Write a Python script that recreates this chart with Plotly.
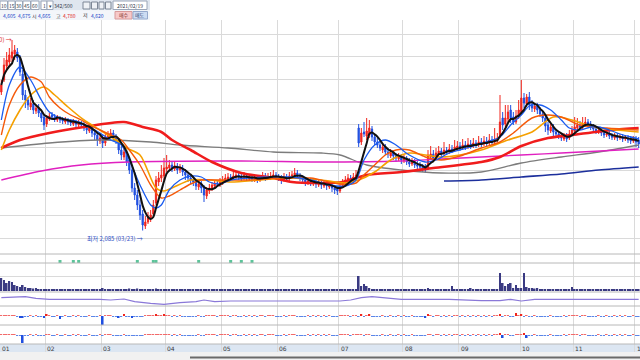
import plotly.graph_objects as go
import pandas as pd

W, H = 640, 360


def px(x):
    return x / W


def py(y):
    return 1 - y / H


# ---------------- data ----------------
day_index = list(range(240))
month_labels = ["01", "02", "03", "04", "05", "06", "07", "08", "09", "10", "11", "12"]
month_first_day = [0, 17, 38, 62, 83, 104, 127, 151, 172, 195, 215, 238]

opens = [
    6240, 6600, 7020, 7140, 7260, 7380, 7440, 7260, 6780, 6150,
    6000, 5790, 5880, 5670, 5760, 5610, 5490, 5280, 5430, 5550,
    5490, 5400, 5460, 5430, 5340, 5400, 5370, 5280, 5340, 5250,
    5310, 5250, 5160, 5070, 5190, 5010, 4950, 4770, 4860, 4710,
    4860, 4920, 5010, 4890, 4770, 4500, 4290, 4440, 4200, 3900,
    3360, 3150, 2850, 2580, 2220, 2340, 2430, 2580, 2910, 3540,
    3660, 3720, 3930, 3960, 4050, 3930, 4020, 3900, 3960, 3840,
    3750, 3660, 3600, 3540, 3390, 3480, 3360, 3120, 3270, 3330,
    3420, 3510, 3450, 3510, 3570, 3630, 3690, 3660, 3690, 3750,
    3690, 3660, 3720, 3630, 3690, 3600, 3660, 3600, 3660, 3720,
    3660, 3660, 3720, 3750, 3690, 3660, 3600, 3690, 3630, 3720,
    3750, 3810, 3720, 3660, 3600, 3510, 3570, 3480, 3540, 3450,
    3510, 3420, 3480, 3390, 3450, 3360, 3330, 3270, 3420, 3510,
    3570, 3660, 3570, 3660, 5160, 4740, 5040, 4920, 4950, 5130,
    4890, 4740, 4650, 4500, 4590, 4440, 4320, 4410, 4320, 4230,
    4290, 4170, 4260, 4140, 4080, 4140, 4050, 4020, 3990, 3960,
    3960, 4290, 4380, 4260, 4380, 4470, 4410, 4500, 4440, 4530,
    4500, 4560, 4620, 4560, 4650, 4590, 4680, 4620, 4710, 4650,
    4740, 4680, 4770, 4710, 4800, 4740, 4800, 4950, 5460, 5280,
    5430, 5700, 5490, 5340, 5490, 5640, 6060, 5880, 6090, 5880,
    5730, 5820, 5700, 5580, 5460, 5250, 5070, 5190, 5040, 4980,
    4920, 4830, 4920, 4860, 4980, 5070, 5160, 5250, 5190, 5250,
    5340, 5280, 5190, 5130, 5040, 5100, 5010, 4950, 4980, 4920,
    4860, 4920, 4860, 4890, 4830, 4860, 4830, 4770, 4830, 4800,
]
highs = [
    6600, 7260, 7440, 7560, 7800, 7650, 7560, 7350, 6900, 6300,
    6090, 6060, 6000, 5850, 5880, 5700, 5550, 5550, 5610, 5640,
    5580, 5550, 5520, 5490, 5490, 5460, 5430, 5430, 5400, 5400,
    5370, 5340, 5250, 5280, 5250, 5100, 5040, 4980, 4950, 4980,
    5070, 5130, 5100, 4980, 4860, 4620, 4560, 4500, 4290, 4020,
    3510, 3300, 3000, 2700, 2520, 2640, 2700, 3000, 3720, 3840,
    4050, 4260, 4350, 4200, 4140, 4140, 4110, 4080, 4050, 3930,
    3840, 3750, 3720, 3630, 3570, 3570, 3450, 3390, 3480, 3540,
    3600, 3600, 3660, 3720, 3780, 3810, 3780, 3840, 3870, 3840,
    3780, 3840, 3810, 3780, 3780, 3750, 3750, 3750, 3840, 3810,
    3810, 3840, 3900, 3840, 3780, 3750, 3810, 3780, 3840, 3870,
    3960, 3900, 3810, 3750, 3690, 3660, 3660, 3630, 3630, 3600,
    3600, 3570, 3540, 3540, 3510, 3450, 3420, 3510, 3630, 3720,
    3780, 3750, 3810, 3900, 5280, 5160, 5340, 5460, 5400, 5220,
    4980, 4860, 4770, 4710, 4680, 4560, 4530, 4500, 4410, 4410,
    4380, 4350, 4320, 4260, 4260, 4230, 4170, 4140, 4080, 4080,
    4500, 4620, 4500, 4560, 4620, 4560, 4740, 4590, 4680, 4650,
    4800, 4770, 4740, 4830, 4770, 4860, 4800, 4860, 4800, 4920,
    4860, 4920, 4890, 4980, 4920, 5160, 5010, 6150, 5640, 5850,
    5850, 5850, 5640, 5700, 6000, 6600, 6210, 6180, 6240, 6000,
    5910, 5910, 5790, 5670, 5550, 5340, 5280, 5280, 5130, 5070,
    5010, 5010, 5010, 5100, 5220, 5490, 5460, 5370, 5490, 5490,
    5430, 5370, 5280, 5220, 5190, 5190, 5100, 5070, 5070, 5010,
    5010, 5010, 4980, 4980, 4950, 4950, 4920, 4920, 4920, 4890,
]
lows = [
    6150, 6540, 6900, 7020, 7140, 7200, 7140, 6720, 6000, 5760,
    5700, 5700, 5580, 5580, 5490, 5340, 5100, 5190, 5370, 5400,
    5340, 5340, 5310, 5280, 5280, 5250, 5220, 5220, 5190, 5190,
    5160, 5070, 4980, 5010, 4890, 4800, 4620, 4680, 4560, 4620,
    4800, 4860, 4800, 4680, 4380, 4200, 4200, 4020, 3780, 3240,
    3000, 2700, 2400, 2085, 2130, 2280, 2340, 2460, 2850, 3420,
    3540, 3600, 3840, 3900, 3840, 3870, 3780, 3810, 3720, 3600,
    3540, 3480, 3420, 3300, 3300, 3210, 2940, 3030, 3180, 3270,
    3360, 3390, 3390, 3450, 3510, 3570, 3570, 3600, 3630, 3600,
    3570, 3600, 3570, 3570, 3540, 3540, 3510, 3540, 3600, 3570,
    3600, 3600, 3630, 3600, 3570, 3480, 3540, 3540, 3570, 3660,
    3690, 3630, 3570, 3510, 3420, 3450, 3420, 3420, 3360, 3390,
    3330, 3360, 3300, 3330, 3240, 3180, 3150, 3210, 3360, 3450,
    3510, 3510, 3510, 3600, 4590, 4650, 4890, 4800, 4860, 4770,
    4650, 4560, 4470, 4410, 4350, 4260, 4260, 4200, 4140, 4170,
    4080, 4110, 4050, 3990, 4020, 3960, 3930, 3900, 3840, 3810,
    3900, 4200, 4170, 4200, 4320, 4290, 4350, 4350, 4380, 4410,
    4440, 4500, 4470, 4500, 4500, 4530, 4530, 4560, 4560, 4590,
    4590, 4620, 4620, 4650, 4650, 4680, 4740, 4860, 5100, 5190,
    5340, 5310, 5250, 5280, 5430, 5550, 5760, 5790, 5700, 5640,
    5640, 5580, 5490, 5340, 5040, 4950, 5010, 4920, 4890, 4830,
    4770, 4770, 4740, 4800, 4920, 5010, 5100, 5100, 5130, 5190,
    5190, 5100, 5040, 4980, 4980, 4920, 4860, 4890, 4830, 4800,
    4800, 4770, 4800, 4740, 4770, 4710, 4680, 4710, 4590, 4560,
]
closes = [
    6450, 7050, 7200, 7350, 7440, 7500, 7260, 6840, 6150, 6000,
    5850, 5910, 5700, 5760, 5610, 5460, 5250, 5460, 5520, 5490,
    5430, 5460, 5400, 5370, 5400, 5340, 5310, 5340, 5280, 5310,
    5250, 5160, 5100, 5190, 5010, 4950, 4800, 4860, 4710, 4890,
    4950, 5010, 4890, 4800, 4500, 4350, 4440, 4140, 3900, 3360,
    3150, 2850, 2550, 2250, 2340, 2460, 2550, 2850, 3600, 3660,
    3750, 3960, 3990, 4050, 3960, 4020, 3900, 3960, 3840, 3750,
    3660, 3600, 3540, 3420, 3480, 3360, 3150, 3300, 3360, 3450,
    3510, 3480, 3540, 3600, 3660, 3690, 3660, 3720, 3750, 3690,
    3660, 3720, 3660, 3690, 3630, 3660, 3600, 3660, 3720, 3660,
    3690, 3720, 3750, 3690, 3660, 3600, 3690, 3630, 3720, 3750,
    3810, 3720, 3660, 3600, 3540, 3570, 3510, 3540, 3480, 3510,
    3450, 3480, 3420, 3450, 3360, 3300, 3270, 3420, 3540, 3600,
    3660, 3600, 3690, 3750, 4710, 5010, 4980, 5070, 5160, 4890,
    4740, 4650, 4560, 4590, 4440, 4380, 4410, 4320, 4260, 4290,
    4200, 4260, 4140, 4080, 4140, 4050, 4020, 3990, 3930, 3900,
    4350, 4380, 4260, 4410, 4470, 4410, 4500, 4440, 4530, 4500,
    4590, 4620, 4560, 4650, 4590, 4680, 4620, 4710, 4650, 4740,
    4680, 4770, 4710, 4800, 4740, 4830, 4860, 5340, 5250, 5460,
    5640, 5460, 5340, 5520, 5700, 6060, 5910, 6090, 5850, 5760,
    5820, 5700, 5580, 5460, 5220, 5100, 5190, 5040, 4980, 4920,
    4860, 4920, 4830, 4980, 5100, 5190, 5250, 5190, 5280, 5340,
    5280, 5190, 5130, 5070, 5100, 5010, 4950, 4980, 4920, 4890,
    4920, 4860, 4890, 4830, 4860, 4800, 4770, 4830, 4740, 4680,
]

# moving-average lines (day index, price)
ma10_days = [0, 3, 7, 11, 15, 18, 22, 26, 30, 33, 37, 41, 45, 48, 52, 56, 58, 60, 63, 67,
             71, 75, 78, 82, 86, 93, 101, 108, 116, 123, 129, 133, 136, 140, 144, 148, 153,
             159, 163, 168, 176, 183, 187, 191, 195, 198, 202, 206, 210, 213, 217, 221, 224,
             228, 232, 236, 239]
ma10_vals = [5400, 6450, 6990, 6600, 6000, 5640, 5460, 5400, 5310, 5190, 5010, 4800, 4650,
             4200, 3450, 2850, 2760, 2850, 3300, 3600, 3720, 3690, 3540, 3480, 3600, 3660,
             3690, 3690, 3600, 3450, 3420, 3600, 4200, 4650, 4800, 4650, 4350, 4140, 4200,
             4410, 4590, 4770, 4890, 5250, 5550, 5820, 5850, 5700, 5400, 5160, 5100, 5190,
             5190, 5100, 4980, 4890, 4830]
ma20_days = [0, 3, 7, 11, 15, 18, 22, 26, 30, 33, 37, 41, 45, 48, 52, 56, 60, 63, 67, 71,
             75, 82, 93, 105, 116, 127, 133, 136, 140, 144, 148, 153, 159, 165, 172, 180,
             187, 192, 199, 205, 210, 217, 227, 239]
ma20_vals = [4950, 5850, 6450, 6690, 6540, 6090, 5760, 5550, 5400, 5250, 5100, 4950, 4800,
             4500, 4050, 3450, 3060, 3120, 3300, 3480, 3600, 3600, 3600, 3660, 3660, 3480,
             3510, 3750, 4050, 4350, 4500, 4500, 4290, 4200, 4320, 4560, 4740, 5010, 5460,
             5550, 5490, 5250, 5160, 5100]
ma30_days = [0, 3, 7, 11, 16, 20, 25, 31, 37, 43, 47, 52, 58, 61, 64, 71, 78, 86, 97, 108,
             120, 129, 134, 140, 146, 153, 159, 165, 172, 180, 190, 199, 207, 214, 222, 239]
ma30_vals = [4500, 5100, 5700, 6150, 6390, 6150, 5790, 5400, 5100, 4800, 4560, 4350, 3360,
             3270, 3360, 3600, 3600, 3540, 3600, 3660, 3600, 3510, 3600, 3840, 4200, 4410,
             4350, 4290, 4350, 4500, 4800, 5040, 5490, 5400, 5190, 5040]
ma60_days = [0, 7, 18, 31, 46, 53, 60, 64, 71, 79, 90, 102, 109, 120, 128, 137, 150, 162,
             180, 187, 195, 205, 214, 229, 239]
ma60_vals = [4560, 4800, 5010, 5190, 5340, 5190, 5040, 4800, 4500, 4140, 3810, 3660, 3540,
             3510, 3540, 3750, 3840, 3960, 4140, 4290, 4620, 4860, 4950, 5100, 5160]
ma120_days = [0, 18, 37, 56, 67, 85, 102, 120, 127, 137, 150, 165, 180, 195, 210, 224, 239]
ma120_vals = [4560, 4710, 4800, 4740, 4650, 4560, 4440, 4410, 4350, 4050, 3900, 3810, 3840,
              4110, 4290, 4440, 4650]
ma240_days = [0, 15, 30, 48, 90, 120, 150, 165, 180, 195, 210, 239]
ma240_vals = [3600, 3870, 4050, 4140, 4170, 4140, 4170, 4230, 4290, 4350, 4410, 4530]
ma480_days = [166, 180, 195, 210, 224, 239]
ma480_vals = [3570, 3600, 3690, 3780, 3900, 3990]

volume = [
    1300, 1100, 800, 1000, 900, 600, 500, 400, 600, 400,
    300, 300, 250, 300, 200, 200, 150, 200, 150, 150,
    200, 150, 150, 200, 150, 150, 150, 200, 150, 150,
    150, 200, 150, 150, 200, 150, 150, 200, 300, 150,
    150, 200, 150, 150, 200, 150, 200, 200, 250, 200,
    200, 250, 200, 200, 150, 150, 150, 200, 250, 200,
    200, 150, 150, 150, 150, 200, 150, 150, 150, 150,
    150, 150, 150, 150, 150, 150, 200, 150, 150, 150,
    150, 150, 150, 150, 150, 150, 150, 150, 150, 150,
    150, 150, 150, 150, 150, 150, 150, 150, 150, 150,
    150, 150, 150, 150, 150, 150, 150, 150, 150, 150,
    150, 150, 150, 150, 150, 150, 150, 150, 150, 150,
    150, 150, 150, 150, 150, 150, 150, 150, 200, 150,
    150, 150, 150, 150, 1500, 500, 700, 500, 300, 200,
    200, 200, 200, 150, 150, 150, 150, 150, 150, 150,
    150, 150, 150, 150, 150, 150, 150, 150, 150, 150,
    300, 200, 150, 150, 150, 150, 150, 150, 150, 500,
    150, 150, 150, 150, 150, 150, 300, 150, 150, 150,
    150, 150, 150, 150, 150, 150, 150, 1800, 800, 500,
    700, 800, 300, 600, 300, 300, 1800, 400, 300, 300,
    250, 300, 200, 150, 150, 150, 150, 150, 150, 150,
    150, 150, 150, 150, 400, 150, 150, 150, 150, 150,
    150, 150, 150, 150, 150, 150, 150, 150, 150, 150,
    150, 150, 150, 150, 150, 150, 150, 150, 150, 150,
]

line_ind_days = [0, 5, 9, 13, 18, 37, 41, 46, 50, 56, 61, 67, 73, 76, 80, 86, 127, 131, 135,
                 139, 144, 150, 168, 180, 187, 191, 195, 200, 239]
line_ind_vals = [8.3, 9.0, 9.3, 7.7, 6.7, 6.7, 6.0, 7.0, 4.3, 2.7, 1.7, 3.3, 4.3, 6.0, 4.3,
                 5.0, 5.0, 6.0, 8.3, 9.3, 8.3, 6.7, 6.7, 5.3, 5.3, 6.7, 5.0, 6.7, 6.7]

osc1 = [
    1, 1, 1, 1, 1, 1, -1, -2, -2, -1,
    -1, 1, -1, 1, -1, -1, -2, 2, 1, -1,
    -1, 1, -3, -1, 1, -1, -1, 1, -1, 1,
    -1, -1, -1, 1, -1, -1, -1, 1, -9, 1,
    1, 1, -1, -1, -2, -1, 2, -1, -1, -2,
    -1, -1, -1, -1, 1, 1, 1, 1, 2, 1,
    1, 2, 1, 1, -1, 1, -1, 1, -1, -1,
    -1, -1, -1, -1, 1, -1, -1, 1, 1, 1,
    1, -1, 1, 1, 1, 1, -1, 1, 1, -1,
    -1, 1, -1, 1, -1, 1, -1, 1, 1, -1,
    1, 1, 1, -1, -1, -1, 1, -1, 1, 1,
    1, -1, -1, -1, -1, 1, -1, 1, -1, 1,
    -1, 1, -1, 1, -1, -1, -1, 1, 1, 1,
    1, -1, 1, 1, -1, 2, -1, 1, 2, -1,
    -1, -1, -1, 1, -1, -1, 1, -1, -1, 1,
    -1, 1, -1, -1, 1, -1, -1, -1, -1, -2,
    2, 1, -1, 1, 1, -1, 1, -1, 1, -1,
    1, 1, -1, 1, -1, 1, -1, 1, -1, 1,
    -1, 1, -1, 1, -1, 1, 1, 2, -1, 1,
    1, -1, -1, 3, 1, 2, -1, 1, -1, -1,
    1, -1, -1, -1, -1, -1, 1, -1, -1, -1,
    -1, 1, -1, 1, 1, 1, 1, -1, 1, 1,
    -1, -1, -1, -1, 1, -1, -1, 1, -1, -1,
    1, -1, 1, -1, 1, -1, -1, 1, -1, -1,
]
osc2 = [
    0.5, 0.5, 0.5, 0.5, 0.5, 0.5, -0.5, -0.5, -8, -0.5,
    -0.5, 0.5, -0.5, 0.5, -0.5, -0.5, -0.5, 0.5, 0.5, -0.5,
    -0.5, 0.5, -0.5, -0.5, 0.5, -0.5, -0.5, 0.5, -0.5, 0.5,
    -0.5, -0.5, -0.5, 0.5, -0.5, -0.5, -0.5, 0.5, -0.5, 0.5,
    0.5, 0.5, -0.5, -0.5, -0.5, -0.5, 0.5, -0.5, -0.5, -0.5,
    -0.5, -0.5, -0.5, -0.5, 0.5, 0.5, 0.5, 0.5, 0.5, 0.5,
    0.5, 0.5, 0.5, 0.5, -0.5, 0.5, -0.5, 0.5, -0.5, -0.5,
    -0.5, -0.5, -0.5, -0.5, 0.5, -0.5, -0.5, 0.5, 0.5, 0.5,
    0.5, -0.5, 0.5, 0.5, 0.5, 0.5, -0.5, 0.5, 0.5, -0.5,
    -0.5, 0.5, -0.5, 0.5, -0.5, 0.5, -0.5, 0.5, 0.5, -0.5,
    0.5, 0.5, 0.5, -0.5, -0.5, -0.5, 0.5, -0.5, 0.5, 0.5,
    0.5, -0.5, -0.5, -0.5, -0.5, 0.5, -0.5, 0.5, -0.5, 0.5,
    -0.5, 0.5, -0.5, 0.5, -0.5, -0.5, -0.5, 0.5, 0.5, 0.5,
    0.5, -0.5, 0.5, 0.5, 1, 0.8, -0.5, 0.8, 0.8, -0.5,
    -0.5, -0.5, -0.5, 0.5, -0.5, -0.5, 0.5, -0.5, -0.5, 0.5,
    -0.5, 0.5, -0.5, -0.5, 0.5, -0.5, -0.5, -0.5, -0.5, -0.5,
    0.5, 0.5, -0.5, 0.5, 0.5, -0.5, 0.5, -0.5, 0.5, -0.5,
    0.5, 0.5, -0.5, 0.5, -0.5, 0.5, -0.5, 0.5, -0.5, 0.5,
    -0.5, 0.5, -0.5, 0.5, -0.5, 0.5, 0.5, 2, -3, 0.5,
    0.5, -1, -0.5, 0.5, 0.5, 0.5, 2, -3, -0.5, -0.5,
    0.5, -0.5, -0.5, -0.5, -0.5, -0.5, 0.5, -0.5, -0.5, -0.5,
    -0.5, 0.5, -0.5, 0.5, 0.5, 0.5, 0.5, -0.5, 0.5, 0.5,
    -0.5, -0.5, -0.5, -0.5, 0.5, -0.5, -0.5, 0.5, -0.5, -0.5,
    0.5, -0.5, 0.5, -0.5, 0.5, -0.5, -0.5, 0.5, -0.5, -0.5,
]
signal_days = [22, 27, 29, 51, 57, 58, 74, 86, 90, 94]
signal_level = [1.5] * len(signal_days)

low_label = "최저 2,085 (03/23) →"
high_label = "최고 7,800 (01/20) →"

# ---------------- figure ----------------
RED = "#f0261e"
BLUE = "#1f4fe0"
FONT = "Noto Sans CJK KR, DejaVu Sans, sans-serif"

fig = go.Figure()

fig.add_trace(go.Candlestick(
    x=day_index, open=opens, high=highs, low=lows, close=closes,
    increasing=dict(line=dict(color=RED, width=1), fillcolor=RED),
    decreasing=dict(line=dict(color=BLUE, width=1), fillcolor=BLUE),
    whiskerwidth=0, hoverinfo="skip", xaxis="x", yaxis="y"))

ma5 = pd.Series(closes).rolling(5, min_periods=1).mean()


def ma_line(xs, ys, color, width):
    fig.add_trace(go.Scatter(x=xs, y=ys, mode="lines",
                             line=dict(color=color, width=width, shape="spline", smoothing=0.8),
                             hoverinfo="skip", xaxis="x", yaxis="y"))


ma_line(ma480_days, ma480_vals, "#1c2f9c", 1.6)
ma_line(ma120_days, ma120_vals, "#7c7c7c", 1.3)
ma_line(ma240_days, ma240_vals, "#e020c0", 1.3)
ma_line(ma60_days, ma60_vals, "#f01c1c", 2.6)
ma_line(ma30_days, ma30_vals, "#f5a000", 1.6)
ma_line(ma20_days, ma20_vals, "#f55a0a", 1.4)
ma_line(ma10_days, ma10_vals, "#1a5cf0", 1.3)
fig.add_trace(go.Scatter(x=day_index, y=ma5, mode="lines",
                         line=dict(color="#111111", width=2, shape="spline", smoothing=0.6),
                         hoverinfo="skip", xaxis="x", yaxis="y"))

# signal dots
fig.add_trace(go.Scatter(x=signal_days, y=signal_level, mode="markers",
                         marker=dict(symbol="square", size=3, color="#5cc49a"),
                         hoverinfo="skip", xaxis="x", yaxis="y2"))

# volume
fig.add_trace(go.Bar(x=day_index, y=volume, marker=dict(color="#3a3a82", line=dict(width=0)),
                     hoverinfo="skip", xaxis="x", yaxis="y3"))

# line indicator
fig.add_trace(go.Scatter(x=line_ind_days, y=line_ind_vals, mode="lines",
                         line=dict(color="#8a78d8", width=1.2),
                         hoverinfo="skip", xaxis="x", yaxis="y4"))


def osc_colors(vals):
    out = []
    for v in vals:
        if v > 0:
            out.append(RED if v >= 1.5 else "#f26a6a")
        else:
            out.append(BLUE if v <= -1.5 else "#5b86e8")
    return out


fig.add_trace(go.Bar(x=day_index, y=osc1, marker=dict(color=osc_colors(osc1), line=dict(width=0)),
                     hoverinfo="skip", xaxis="x", yaxis="y5"))
fig.add_trace(go.Bar(x=day_index, y=osc2, marker=dict(color=osc_colors(osc2), line=dict(width=0)),
                     hoverinfo="skip", xaxis="x", yaxis="y6"))
fig.add_trace(go.Scatter(x=[0], y=[-1], mode="markers", marker=dict(size=1, opacity=0),
                         hoverinfo="skip", xaxis="x", yaxis="y7"))

GRID = "#dadada"
tick_pos = [d - 0.5 for d in month_first_day]

fig.update_layout(
    width=W, height=H, margin=dict(l=0, r=0, t=0, b=0),
    paper_bgcolor="white", plot_bgcolor="rgba(0,0,0,0)",
    showlegend=False, bargap=0.35, boxgap=0.35,
    font=dict(family=FONT, size=7, color="#333333"),
    xaxis=dict(range=[-0.5, 239.5], tickvals=tick_pos, showticklabels=False,
               showgrid=True, gridcolor=GRID, gridwidth=1, zeroline=False,
               showline=False, ticks="", rangeslider=dict(visible=False),
               fixedrange=True, anchor="y7"),
    yaxis=dict(domain=[py(254), py(20)], range=[1380, 8400], tick0=1860, dtick=680,
               showticklabels=False, showgrid=True, gridcolor=GRID, zeroline=False,
               fixedrange=True),
    yaxis2=dict(domain=[py(263), py(254)], range=[0, 9], showgrid=False,
                showticklabels=False, zeroline=False, fixedrange=True),
    yaxis3=dict(domain=[py(292), py(263)], range=[-100, 2800], tickvals=[1450],
                showgrid=True, gridcolor=GRID, showticklabels=False, zeroline=False,
                fixedrange=True),
    yaxis4=dict(domain=[py(306), py(292)], range=[0, 14], showgrid=False,
                showticklabels=False, zeroline=False, fixedrange=True),
    yaxis5=dict(domain=[py(325), py(306)], range=[-9, 10], showgrid=False,
                showticklabels=False, zeroline=False, fixedrange=True),
    yaxis6=dict(domain=[py(344), py(325)], range=[-9, 10], showgrid=False,
                showticklabels=False, zeroline=False, fixedrange=True),
    yaxis7=dict(domain=[py(352), py(344)], range=[0, 1], showgrid=False,
                showticklabels=False, zeroline=False, fixedrange=True),
)

shapes = []
# x-axis band and bottom strip
shapes.append(dict(type="rect", xref="paper", yref="paper", x0=0, x1=1, y0=py(352), y1=py(344),
                   fillcolor="#dce6f2", line=dict(width=0), layer="below"))
shapes.append(dict(type="rect", xref="paper", yref="paper", x0=0, x1=1, y0=0, y1=py(352),
                   fillcolor="#f1f1f1", line=dict(width=0), layer="below"))
shapes.append(dict(type="line", xref="paper", yref="paper", x0=px(190), x1=1, y0=py(357.5),
                   y1=py(357.5), line=dict(color="#6a6a6a", width=2)))
# panel separators
for yy in [254, 263, 292, 306, 325, 344]:
    shapes.append(dict(type="line", xref="paper", yref="paper", x0=0, x1=1, y0=py(yy), y1=py(yy),
                       line=dict(color="#b8b8b8", width=1)))
# toolbar
shapes.append(dict(type="rect", xref="paper", yref="paper", x0=0, x1=px(150), y0=py(10.5), y1=1,
                   fillcolor="#dfe6ef", line=dict(width=0), layer="below"))
shapes.append(dict(type="rect", xref="paper", yref="paper", x0=0, x1=px(150), y0=py(20), y1=py(10.5),
                   fillcolor="#f3f6fa", line=dict(width=0), layer="below"))
btns = [(0, 7.5), (8, 15), (15.5, 22.5), (23, 30.5), (31, 39), (41, 47), (47, 53), (113, 147)]
for a, b in btns:
    shapes.append(dict(type="rect", xref="paper", yref="paper", x0=px(a), x1=px(b), y0=py(9.5),
                       y1=py(1), fillcolor="white", line=dict(color="#9aa6b8", width=1)))
for a, b in [(83, 90), (91.5, 97.5), (99, 104), (105.5, 111)]:
    shapes.append(dict(type="rect", xref="paper", yref="paper", x0=px(a), x1=px(b), y0=py(9),
                       y1=py(2), fillcolor="#eef1f5", line=dict(color="#7d8796", width=1)))
shapes.append(dict(type="rect", xref="paper", yref="paper", x0=px(115), x1=px(132), y0=py(19),
                   y1=py(11.5), fillcolor="#f7c9c9", line=dict(color="#d89a9a", width=1)))
shapes.append(dict(type="rect", xref="paper", yref="paper", x0=px(133), x1=px(147.5), y0=py(19),
                   y1=py(11.5), fillcolor="#cddcf2", line=dict(color="#95a9cc", width=1)))
fig.update_layout(shapes=shapes)

ann = []
for d, lab in zip(tick_pos, month_labels):
    ann.append(dict(x=d, xref="x", y=py(348), yref="paper", text=lab, showarrow=False,
                    xanchor="left", yanchor="middle", xshift=0,
                    font=dict(size=6, color="#3a3a3a", family="DejaVu Sans")))

low_i = lows.index(min(lows))
ann.append(dict(x=low_i + 0.8, y=lows[low_i], xref="x", yref="y", text=low_label,
                showarrow=False, xanchor="right", yanchor="top", yshift=-1,
                font=dict(size=6, color="#2d4fc6", family=FONT)))
high_i = highs.index(max(highs))
ann.append(dict(x=high_i + 0.6, y=highs[high_i], xref="x", yref="y", text=high_label,
                showarrow=False, xanchor="right", yanchor="middle", yshift=1,
                font=dict(size=6, color="#e02a2a", family=FONT)))


def tb(x, y, text, color="#333333", size=5):
    ann.append(dict(x=px(x), y=py(y), xref="paper", yref="paper", text=text, showarrow=False,
                    xanchor="center", yanchor="middle",
                    font=dict(size=size, color=color, family=FONT)))


for cx, t in [(3.8, "10"), (11.5, "15"), (19, "30"), (26.8, "45"), (35, "60"), (44, "1"),
              (50, "▾"), (63.5, "342/500"), (130, "2021/02/19")]:
    tb(cx, 5.5, t, "#333a48", 5)
tb(9.5, 15.5, "4,605", "#2146c8")
tb(24.5, 15.5, "4,675", "#2146c8")
tb(34, 15.5, "시", "#333333")
tb(44.5, 15.5, "4,665", "#2146c8")
tb(58, 15.5, "고", "#333333")
tb(69, 15.5, "4,780", "#e02222")
tb(85, 15.5, "저", "#333333")
tb(97, 15.5, "4,620", "#2146c8")
tb(123.5, 15.3, "매수", "#7a2a2a")
tb(140, 15.3, "매도", "#2a3f78")
fig.update_layout(annotations=ann)

fig.write_html("out.html", config={"displayModeBar": False},
               post_script="document.body.style.margin='0';document.body.style.overflow='hidden';")
